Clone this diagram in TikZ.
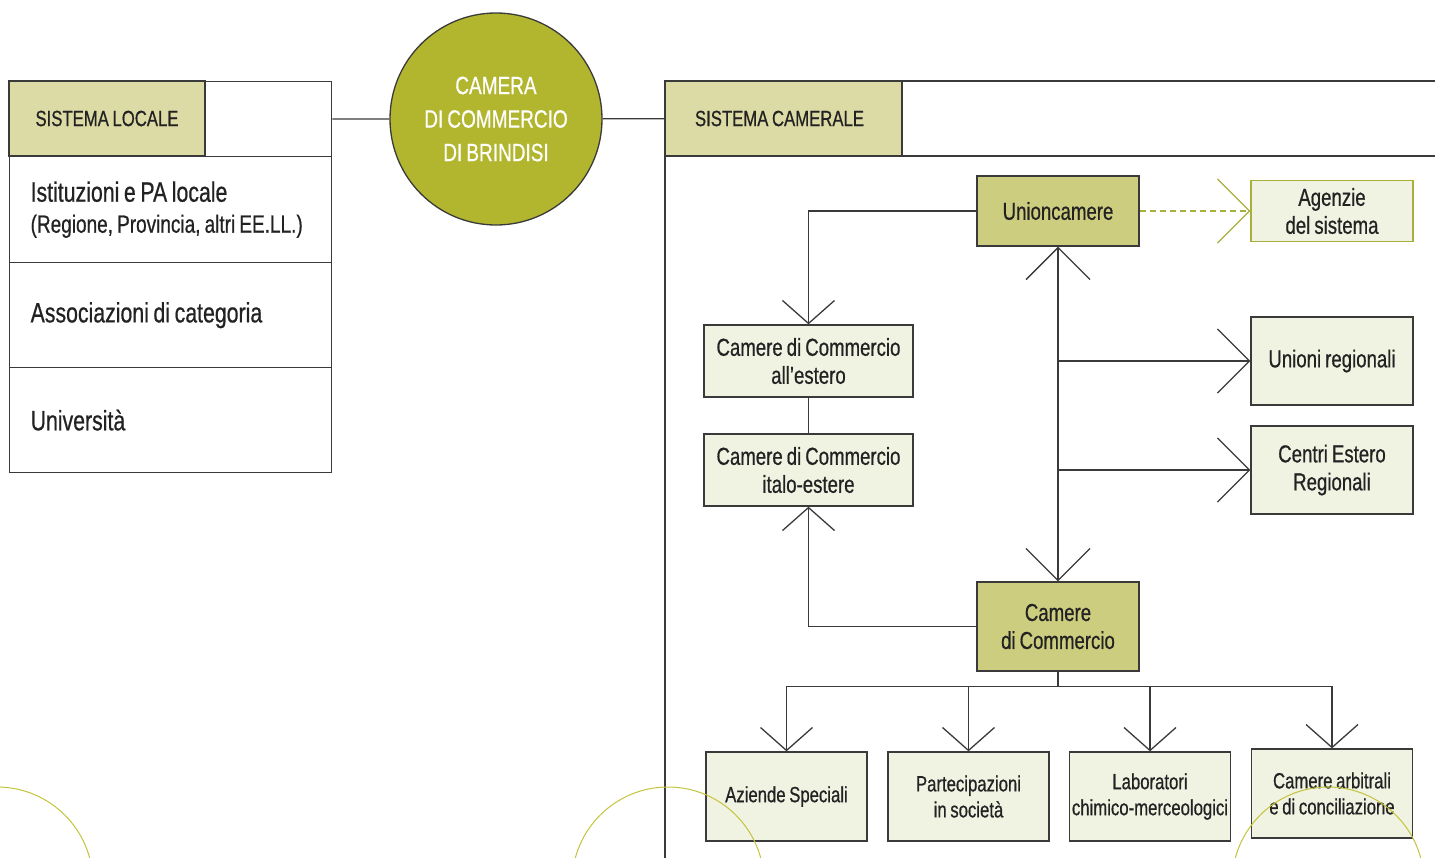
\documentclass[tikz,border=0pt]{standalone}
\usepackage{fontspec}
\setmainfont{Liberation Sans}[FakeStretch=0.76, WordSpace=0.78, FakeBold=0.6]
\usepackage{tikz}
\usetikzlibrary{arrows.meta}
\definecolor{linegray}{RGB}{58,58,58}
\definecolor{txt}{RGB}{34,34,34}
\definecolor{headfill}{RGB}{220,219,166}
\definecolor{keyfill}{RGB}{205,205,128}
\definecolor{lightfill}{RGB}{240,242,226}
\definecolor{olivefill}{RGB}{178,181,46}
\definecolor{agborder}{RGB}{168,176,60}
\definecolor{arcline}{RGB}{196,196,60}
\tikzset{
  Big/.tip={Straight Barb[length=32pt,width=64pt]},
  Small/.tip={Straight Barb[length=23pt,width=52pt]}
}

\begin{document}
\begin{tikzpicture}[x=1pt, y=-1pt,
    line/.style={draw=linegray, line width=1.3pt},
    head/.style={line, fill=headfill, minimum width=237, minimum height=75, anchor=north west,
      inner sep=0pt, outer sep=0pt, text=txt, font=\fontsize{22}{27}\selectfont},
    row/.style={line, minimum width=322, text width=280, inner xsep=21, align=left, anchor=north west,
      text=txt, font=\fontsize{28}{31}\selectfont, execute at begin node={\spaceskip=0pt\xspaceskip=0pt}},
    box/.style={line, fill=lightfill, minimum width=162, minimum height=88, inner sep=2pt, align=center,
      text=txt, font=\fontsize{24.5}{28}\selectfont},
    keybox/.style={box, fill=keyfill},
    lowbox/.style={box, minimum width=161, minimum height=89, font=\fontsize{22}{26}\selectfont}]
    \useasboundingbox (0,0) rectangle (1435,857);
    \clip (0,0) rectangle (1435,857);

    \node[row, minimum height=75] (locTop) at (9,81) {};
    \node[head, minimum width=196] (locHead) at (9,81) {SISTEMA LOCALE};
    \node[row, minimum height=106] (istit) at (9,156) {Istituzioni e PA locale\\
      {\fontsize{25}{27}\selectfont (Regione, Provincia, altri EE.LL.)}};
    \node[row, minimum height=105] (assoc) at (9,262) {Associazioni di categoria};
    \node[row, minimum height=105] (univ) at (9,367) {Università};

    \node[circle, line, fill=olivefill, minimum size=212, inner sep=0pt, align=center, text=white,
      font=\fontsize{25}{33.5}\selectfont] (camera) at (496,119) {CAMERA\\DI COMMERCIO\\DI BRINDISI};

    \node[head] (camHead) at (665,81) {SISTEMA CAMERALE\hspace*{8pt}};
    \draw[line] (camHead.north east) -- (1440,81);
    \draw[line] (camHead.south east) -- (1440,156);
    \draw[line] (camHead.south west) -- (665,860);

    \draw[line] (locTop) -- (camera);
    \draw[line] (camera) -- (camHead);

    \node[keybox, minimum height=70] (unionc) at (1058,211) {Unioncamere};
    \node[box, draw=agborder, minimum height=61] (agenzie) at (1332,211) {Agenzie\\del sistema};
    \node[box, minimum width=209, minimum height=72] (estero) at (808.5,361) {Camere di Commercio\\all’estero};
    \node[box, minimum width=209, minimum height=72] (italo) at (808.5,470) {Camere di Commercio\\italo-estere};
    \node[box] (unioni) at (1332,361) {Unioni regionali};
    \node[box] (centri) at (1332,470) {Centri Estero\\Regionali};
    \node[keybox, minimum height=89] (cciaa) at (1058,626.5) {Camere\\di Commercio};

    \node[lowbox] (aziende) at (786.5,796.5) {Aziende Speciali};
    \node[lowbox] (partec) at (968.5,796.5) {Partecipazioni\\in società};
    \node[lowbox] (labor) at (1150,796.5) {Laboratori\\chimico-merceologici};
    \node[lowbox] (arbitr) at (1332,793.5) {Camere arbitrali\\e di conciliazione};

    \draw[line, draw=agborder, dash pattern=on 6pt off 4pt, -{Big}] (unionc) -- (agenzie);
    \draw[line, -{Small}] (unionc.west) -| (estero.north);
    \draw[line] (estero) -- (italo);
    \draw[line, -{Small}] (cciaa.west) -| (italo.south);
    \draw[line, {Big}-{Big}] (unionc) -- (cciaa);
    \draw[line, -{Big}] (unionc |- unioni) -- (unioni);
    \draw[line, -{Big}] (unionc |- centri) -- (centri);
    \draw[line] (cciaa.south) -- ++(0,15) coordinate (bus);
    \foreach \b in {aziende,partec,labor,arbitr}
      \draw[line, -{Small}] (bus) -| (\b.north);

    \foreach \cx in {-3,668,1328}
      \draw[draw=arcline, line width=1pt] (\cx,883) circle [radius=96];
\end{tikzpicture}
\end{document}
